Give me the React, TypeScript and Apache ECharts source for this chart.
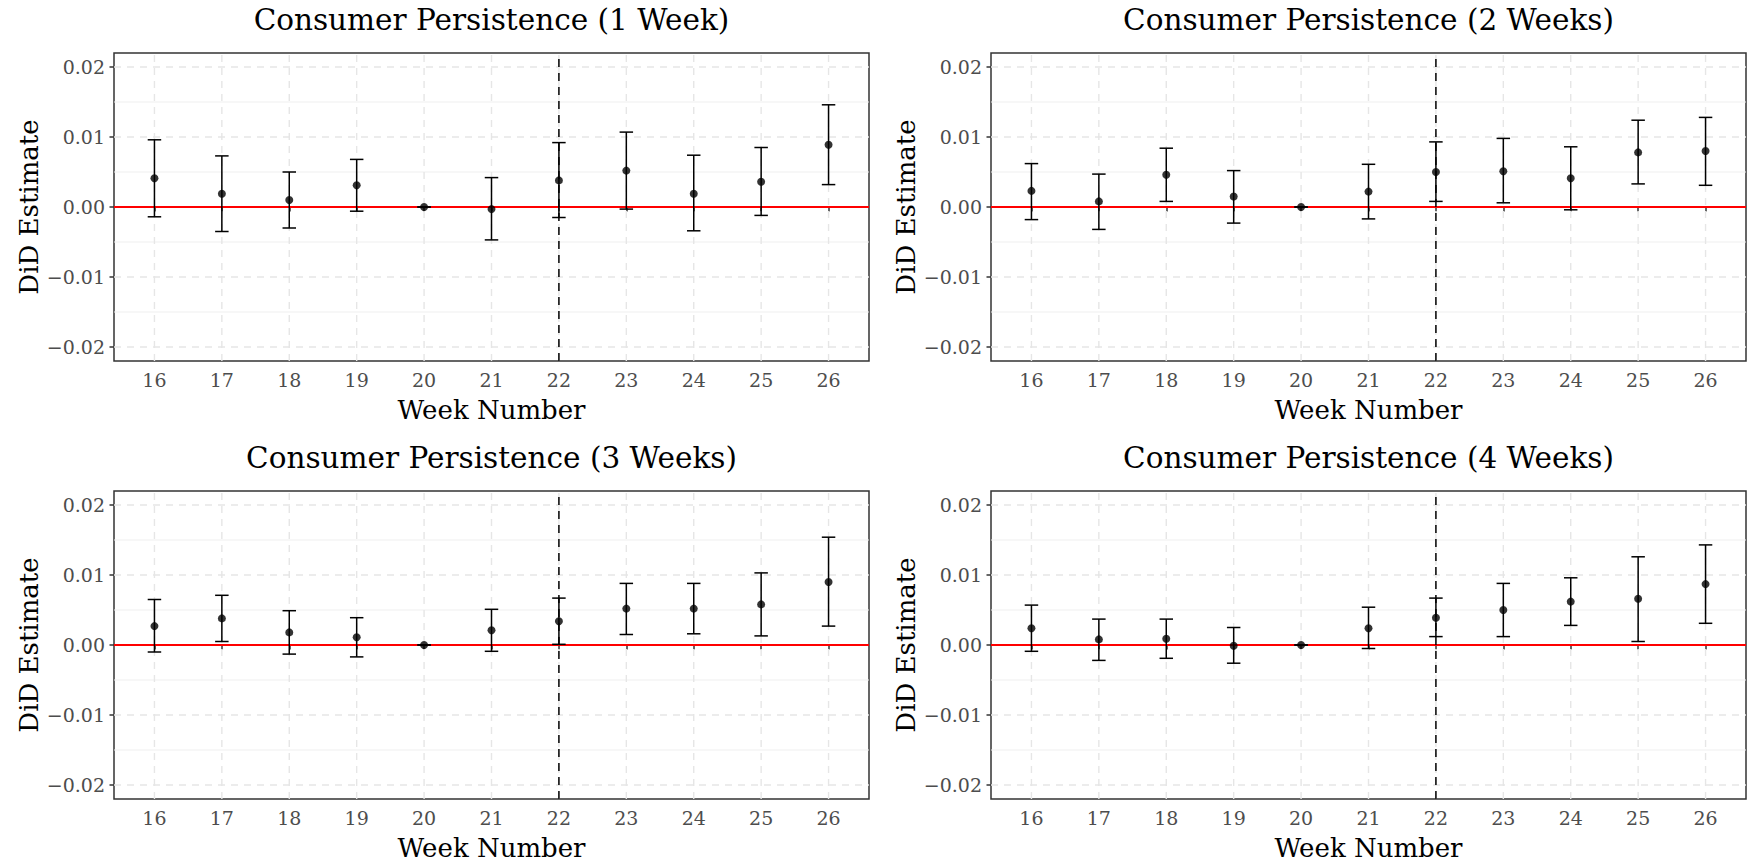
import React, { useEffect, useRef } from "react";
import * as echarts from "echarts";

const weeks = [16, 17, 18, 19, 20, 21, 22, 23, 24, 25, 26];
const yTicks = [-0.02, -0.01, 0, 0.01, 0.02];
const yMinor = [-0.015, -0.005, 0.005, 0.015];
const eventWeek = 22;

const titles = [
  "Consumer Persistence (1 Week)",
  "Consumer Persistence (2 Weeks)",
  "Consumer Persistence (3 Weeks)",
  "Consumer Persistence (4 Weeks)",
];

const est1 = [0.0041, 0.0019, 0.001, 0.0031, 0, -0.0003, 0.0038, 0.0052, 0.0019, 0.0036, 0.0089];
const lo1 = [-0.0014, -0.0035, -0.003, -0.0006, 0, -0.0047, -0.0015, -0.0003, -0.0034, -0.0012, 0.0032];
const hi1 = [0.0096, 0.0073, 0.005, 0.0068, 0, 0.0042, 0.0092, 0.0107, 0.0074, 0.0085, 0.0146];

const est2 = [0.0023, 0.0008, 0.0046, 0.0015, 0, 0.0022, 0.005, 0.0051, 0.0041, 0.0078, 0.008];
const lo2 = [-0.0018, -0.0032, 0.0008, -0.0023, 0, -0.0017, 0.0008, 0.0006, -0.0004, 0.0033, 0.0031];
const hi2 = [0.0062, 0.0047, 0.0084, 0.0052, 0, 0.0061, 0.0093, 0.0098, 0.0086, 0.0124, 0.0128];

const est3 = [0.0027, 0.0038, 0.0018, 0.0011, 0, 0.0021, 0.0034, 0.0052, 0.0052, 0.0058, 0.009];
const lo3 = [-0.001, 0.0005, -0.0013, -0.0017, 0, -0.0009, 0.0001, 0.0015, 0.0016, 0.0013, 0.0027];
const hi3 = [0.0065, 0.0071, 0.0049, 0.0039, 0, 0.0051, 0.0067, 0.0088, 0.0088, 0.0103, 0.0154];

const est4 = [0.0024, 0.0008, 0.0009, -0.0001, 0, 0.0024, 0.0039, 0.005, 0.0062, 0.0066, 0.0087];
const lo4 = [-0.0009, -0.0022, -0.0019, -0.0026, 0, -0.0005, 0.0012, 0.0012, 0.0028, 0.0005, 0.0031];
const hi4 = [0.0057, 0.0037, 0.0037, 0.0025, 0, 0.0054, 0.0067, 0.0088, 0.0096, 0.0126, 0.0143];

const panels = [
  { est: est1, lo: lo1, hi: hi1 },
  { est: est2, lo: lo2, hi: hi2 },
  { est: est3, lo: lo3, hi: hi3 },
  { est: est4, lo: lo4, hi: hi4 },
];

const FONT = "DejaVu Serif";
const X_MIN = 15.4;
const X_MAX = 26.6;
const Y_MIN = -0.022;
const Y_MAX = 0.022;

const gridPos = [
  { left: 114, top: 53 },
  { left: 991, top: 53 },
  { left: 114, top: 491 },
  { left: 991, top: 491 },
];
const GW = 755;
const GH = 308;

const fmtY = (v: number) => {
  const s = Math.abs(v).toFixed(2);
  return v < -1e-9 ? "\u2212" + s : s;
};

function vLineSeries(idx: number, values: number[], style: any, z: number) {
  return {
    type: "custom",
    xAxisIndex: idx,
    yAxisIndex: idx,
    silent: true,
    z,
    data: values.map((v) => [v]),
    renderItem: (params: any, api: any) => {
      const x = api.value(0);
      const p1 = api.coord([x, Y_MIN]);
      const p2 = api.coord([x, Y_MAX]);
      return {
        type: "line",
        shape: { x1: p1[0], y1: p1[1], x2: p2[0], y2: p2[1] },
        style,
      };
    },
  };
}

function hLineSeries(idx: number, values: number[], style: any, z: number) {
  return {
    type: "custom",
    xAxisIndex: idx,
    yAxisIndex: idx,
    silent: true,
    z,
    data: values.map((v) => [v]),
    renderItem: (params: any, api: any) => {
      const y = api.value(0);
      const p1 = api.coord([X_MIN, y]);
      const p2 = api.coord([X_MAX, y]);
      return {
        type: "line",
        shape: { x1: p1[0], y1: p1[1], x2: p2[0], y2: p2[1] },
        style,
      };
    },
  };
}

export default function App() {
  const ref = useRef<HTMLDivElement>(null);

  useEffect(() => {
    if (!ref.current) return;
    const chart = echarts.init(ref.current, null, { renderer: "svg" });

    const grids: any[] = [];
    const xAxes: any[] = [];
    const yAxes: any[] = [];
    const series: any[] = [];
    const titleOpts: any[] = [];

    panels.forEach((p, i) => {
      const g = gridPos[i];
      grids.push({
        left: g.left,
        top: g.top,
        width: GW,
        height: GH,
        show: true,
        borderColor: "#333333",
        borderWidth: 1.5,
        backgroundColor: "#ffffff",
      });
      titleOpts.push({
        text: titles[i],
        left: g.left + GW / 2,
        top: g.top - 48,
        textAlign: "center",
        padding: 0,
        textStyle: {
          fontFamily: FONT,
          fontSize: 29.5,
          fontWeight: "normal",
          color: "#000000",
        },
      });
      xAxes.push({
        type: "value",
        gridIndex: i,
        min: X_MIN,
        max: X_MAX,
        name: "Week Number",
        nameLocation: "middle",
        nameGap: 36,
        nameTextStyle: { fontFamily: FONT, fontSize: 26, color: "#000000" },
        axisLine: { show: false },
        splitLine: { show: false },
        axisTick: {
          show: true,
          length: 4.5,
          customValues: weeks,
          lineStyle: { color: "#333333", width: 1.5 },
        },
        axisLabel: {
          customValues: weeks,
          fontFamily: FONT,
          fontSize: 19,
          color: "#4d4d4d",
          margin: 9,
          formatter: (v: number) => String(Math.round(v)),
        },
      });
      yAxes.push({
        type: "value",
        gridIndex: i,
        min: Y_MIN,
        max: Y_MAX,
        name: "DiD Estimate",
        nameLocation: "middle",
        nameRotate: 90,
        nameGap: 72,
        nameTextStyle: { fontFamily: FONT, fontSize: 26, color: "#000000" },
        axisLine: { show: false },
        splitLine: { show: false },
        axisTick: {
          show: true,
          length: 4.5,
          customValues: yTicks,
          lineStyle: { color: "#333333", width: 1.5 },
        },
        axisLabel: {
          customValues: yTicks,
          fontFamily: FONT,
          fontSize: 19,
          color: "#4d4d4d",
          margin: 9,
          formatter: (v: number) => fmtY(v),
        },
      });

      // grid lines
      series.push(hLineSeries(i, yMinor, { stroke: "#f0f0f0", lineWidth: 1.2 }, 1));
      series.push(
        hLineSeries(i, yTicks, { stroke: "#e6e6e6", lineWidth: 1.4, lineDash: [7, 6] }, 1)
      );
      series.push(
        vLineSeries(i, weeks, { stroke: "#e6e6e6", lineWidth: 1.4, lineDash: [7, 6] }, 1)
      );
      // reference lines
      series.push(hLineSeries(i, [0], { stroke: "#ff0000", lineWidth: 2 }, 2));
      series.push(
        vLineSeries(i, [eventWeek], { stroke: "#000000", lineWidth: 1.5, lineDash: [8, 6] }, 2)
      );
      // error bars
      series.push({
        type: "custom",
        xAxisIndex: i,
        yAxisIndex: i,
        silent: true,
        z: 3,
        data: weeks.map((w, k) => [w, p.lo[k], p.hi[k]]),
        renderItem: (params: any, api: any) => {
          const x = api.value(0);
          const lo = api.value(1);
          const hi = api.value(2);
          const a = api.coord([x, lo]);
          const b = api.coord([x, hi]);
          const half = api.coord([x + 0.1, lo])[0] - a[0];
          const style = { stroke: "#000000", lineWidth: 1.5 };
          return {
            type: "group",
            children: [
              { type: "line", shape: { x1: a[0], y1: a[1], x2: b[0], y2: b[1] }, style },
              { type: "line", shape: { x1: a[0] - half, y1: a[1], x2: a[0] + half, y2: a[1] }, style },
              { type: "line", shape: { x1: b[0] - half, y1: b[1], x2: b[0] + half, y2: b[1] }, style },
            ],
          };
        },
      });
      // point estimates
      series.push({
        type: "scatter",
        xAxisIndex: i,
        yAxisIndex: i,
        silent: true,
        z: 4,
        symbol: "circle",
        symbolSize: 8,
        itemStyle: { color: "#000000" },
        data: weeks.map((w, k) => [w, p.est[k]]),
      });
    });

    chart.setOption({
      animation: false,
      backgroundColor: "#ffffff",
      title: titleOpts,
      grid: grids,
      xAxis: xAxes,
      yAxis: yAxes,
      series,
    });

    return () => chart.dispose();
  }, []);

  return (
    <div
      ref={ref}
      style={{ position: "absolute", left: 0, top: 0, width: 1754, height: 864 }}
    />
  );
}
